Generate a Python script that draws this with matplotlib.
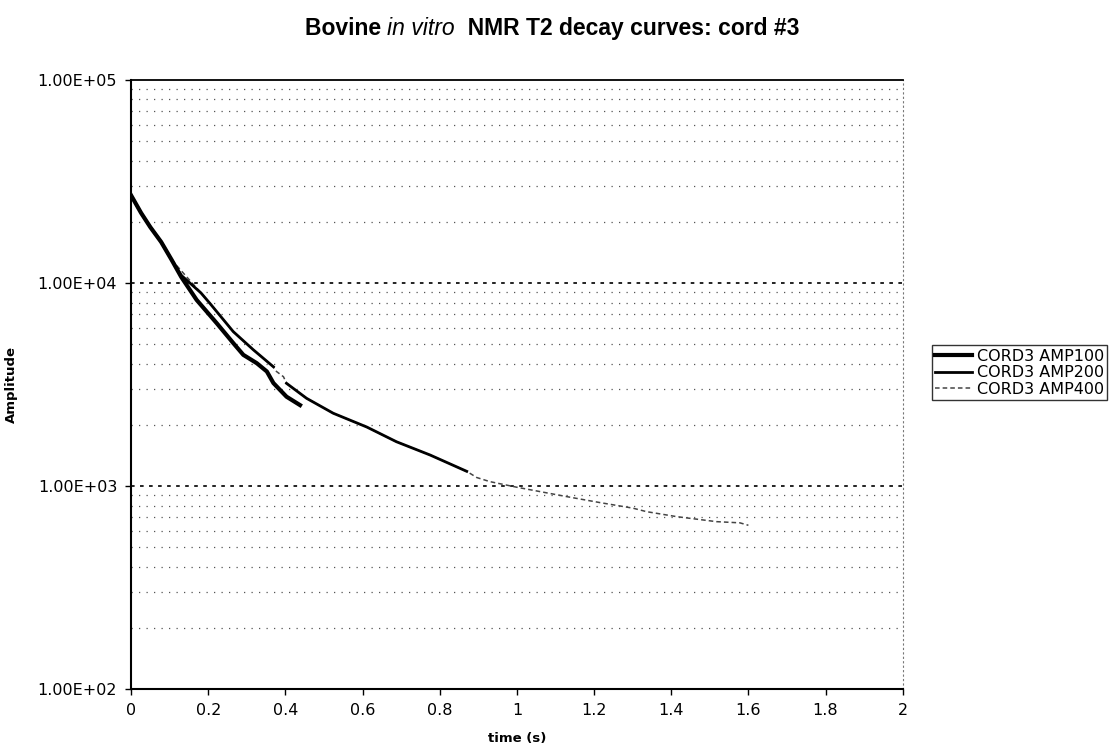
import numpy as np
import matplotlib.pyplot as plt
from matplotlib.ticker import FixedLocator, FuncFormatter

# decay curves, time in seconds and signal amplitude
t100 = [0.0, 0.026, 0.05, 0.078, 0.105, 0.13, 0.17, 0.222, 0.265, 0.291, 0.326,
        0.352, 0.369, 0.403, 0.438]
a100 = [27000, 22100, 18800, 15900, 13000, 10700, 8240, 6330, 5050, 4420, 4020,
        3660, 3210, 2750, 2500]

t200 = [0.0, 0.026, 0.05, 0.078, 0.105, 0.13, 0.181, 0.205, 0.265, 0.317, 0.369,
        0.385, 0.403, 0.455, 0.524, 0.611, 0.688, 0.775, 0.87]
a200 = [27000, 22100, 18800, 15900, 13000, 10900, 8930, 7900, 5750, 4680, 3860,
        np.nan, 3200, 2700, 2280, 1950, 1650, 1420, 1180]

t400 = [0.0, 0.026, 0.05, 0.078, 0.105, 0.121, 0.181, 0.205, 0.265, 0.317, 0.369,
        0.377, 0.395, 0.403, 0.455, 0.524, 0.611, 0.688, 0.775, 0.87, 0.896, 0.93,
        0.999, 1.129, 1.215, 1.301, 1.336, 1.414, 1.517, 1.578, 1.6]
a400 = [27000, 22100, 18800, 15900, 13000, 12000, 8930, 7900, 5750, 4680, 3860,
        3660, 3450, 3200, 2700, 2280, 1950, 1650, 1420, 1180, 1100, 1050,
        986, 886, 828, 777, 747, 706, 667, 658, 640]

x_ticks = [0, 0.2, 0.4, 0.6, 0.8, 1, 1.2, 1.4, 1.6, 1.8, 2]
x_tick_labels = ["0", "0.2", "0.4", "0.6", "0.8", "1", "1.2", "1.4", "1.6", "1.8", "2"]
y_ticks = [1e2, 1e3, 1e4, 1e5]

fig = plt.figure(figsize=(11.2, 7.54), dpi=100)
ax = fig.add_axes([0.117, 0.0862, 0.689, 0.808])

ax.set_yscale('log')
ax.set_xlim(0, 2)
ax.set_ylim(1e2, 1e5)

# gridlines: darker dotted at decades, lighter dotted in between
minor = []
for d in [1e2, 1e3, 1e4]:
    for m in range(2, 10):
        minor.append(d * m)
for v in minor:
    ax.axhline(v, color='#555555', lw=0.9, ls=(0, (1, 5)), zorder=1)
for v in [1e3, 1e4]:
    ax.axhline(v, color='#111111', lw=1.3, ls=(0, (2, 3)), zorder=1)

ax.plot(t400, a400, color='#444444', lw=1.1, ls=(0, (3, 2)), label='CORD3 AMP400', zorder=3)
ax.plot(t200, a200, color='black', lw=2.0, label='CORD3 AMP200', zorder=4)
ax.plot(t100, a100, color='black', lw=3.0, label='CORD3 AMP100', zorder=5)

ax.yaxis.set_major_locator(FixedLocator(y_ticks))
ax.yaxis.set_minor_locator(FixedLocator([]))
ax.yaxis.set_major_formatter(FuncFormatter(lambda v, p: "%.2E" % v))
ax.set_xticks(x_ticks)
ax.set_xticklabels(x_tick_labels)

ax.tick_params(axis='both', direction='out', length=4, width=1, labelsize=11.5, pad=6)

ax.spines['left'].set_linewidth(1.5)
ax.spines['bottom'].set_linewidth(1.5)
ax.spines['top'].set_linewidth(1.3)
ax.spines['right'].set_linestyle((0, (1, 3)))
ax.spines['right'].set_color('#777777')

ax.set_xlabel('time (s)', fontsize=9.5, fontweight='bold', labelpad=10)
ax.set_ylabel('Amplitude', fontsize=9.5, fontweight='bold', labelpad=14)

# title in three pieces so that "in vitro" can be italic
parts = [('Bovine ', 'bold', 'normal'), ('in vitro', 'normal', 'italic'),
         ('  NMR T2 decay curves: cord #3', 'bold', 'normal')]
renderer = fig.canvas.get_renderer()
texts = []
for s, w, st in parts:
    txt = fig.text(0, 0.962, s, ha='left', va='center', fontsize=16.5,
                   fontweight=w, style=st, family='Liberation Sans')
    texts.append(txt)
widths = [t.get_window_extent(renderer).width for t in texts]
x0 = 552 - sum(widths) / 2
for t, w in zip(texts, widths):
    t.set_x(x0 / fig.bbox.width)
    x0 += w

handles, labels = ax.get_legend_handles_labels()
order = [2, 1, 0]
leg = fig.legend([handles[i] for i in order], [labels[i] for i in order],
                 loc='upper left', bbox_to_anchor=(0.832, 0.542), fontsize=11.5,
                 frameon=True, fancybox=False, edgecolor='black',
                 handlelength=2.3, handletextpad=0.3, borderpad=0.2,
                 labelspacing=0.1, borderaxespad=0)
leg.get_frame().set_linewidth(1.0)

fig.savefig('out.png', dpi=100)
